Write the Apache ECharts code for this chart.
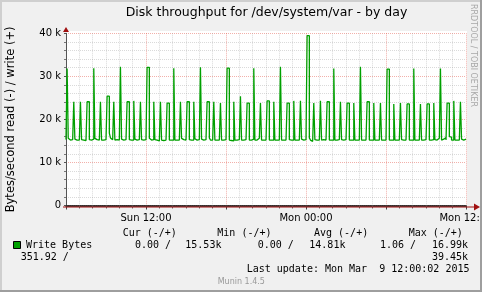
<!DOCTYPE html>
<html><head><meta charset="utf-8">
<script src="https://cdn.jsdelivr.net/npm/echarts@6/dist/echarts.min.js"></script>
<style>html,body{margin:0;padding:0;background:#f0f0f0}#c{width:482px;height:292px}</style>
</head><body><div id="c"></div>
<script>
// ---- data (values in k bytes/second), 5-minute samples starting Sun 06:00 ----
const title = 'Disk throughput for /dev/system/var - by day';
const yAxisName = 'Bytes/second read (-) / write (+)';
const startHour = 6;          // Sun 06:00
const stepMinutes = 5;
const xTickLabels = {12: 'Sun 12:00', 24: 'Mon 00:00', 36: 'Mon 12:00'};
const yTicks = [0, 10, 20, 30, 40];
const writeK = [
 15.3,31.8,15.6,15.2,15.2,15.3,15.2,24.1,15.4,15.2,15.3,15.2,
 15.2,24.1,15.3,15.2,15.3,15.1,15.2,24.1,24.1,15.3,15.2,15.2,
 15.4,31.9,15.6,15.3,15.2,15.2,15.3,24.1,15.2,15.2,15.2,15.3,
 15.2,25.4,25.4,16.8,15.7,15.3,15.2,24.1,15.2,15.3,15.2,15.2,
 15.3,32.2,15.4,15.2,15.2,15.3,15.2,24.1,24.1,15.3,15.2,15.1,
 15.2,24.3,15.4,15.2,15.2,15.3,15.2,24.1,15.3,15.2,15.2,15.3,
 15.4,32.1,32.1,15.6,15.2,15.2,15.3,24.1,15.3,15.2,15.2,15.0,
 15.2,24.1,15.2,15.1,15.2,15.2,15.2,23.8,23.8,15.2,15.2,15.1,
 15.2,31.9,15.2,15.2,15.2,15.2,15.2,24.1,15.6,15.3,15.2,15.2,
 15.2,24.1,24.1,15.3,15.2,15.2,15.2,24.1,15.5,15.2,15.2,15.3,
 15.2,32.1,15.4,15.2,15.2,15.3,15.2,24.1,24.1,15.7,15.2,15.2,
 15.2,24.1,15.2,15.2,15.3,15.2,15.2,23.8,15.2,15.2,15.2,15.3,
 15.2,31.9,31.9,15.2,15.1,15.1,15.0,24.1,15.2,15.2,15.1,15.3,
 15.2,25.4,15.2,15.2,15.2,15.3,15.2,23.8,23.8,15.2,15.2,15.2,
 15.4,31.9,15.2,15.2,15.3,15.6,15.2,23.8,15.2,15.2,15.2,15.2,
 15.2,24.3,24.3,15.2,15.2,15.3,15.2,24.1,15.2,15.2,15.2,15.2,
 15.4,32.2,15.2,15.2,15.2,15.2,15.2,23.8,23.8,15.3,15.2,15.2,
 15.2,24.3,15.2,15.2,15.3,15.2,15.2,24.3,15.4,15.2,15.2,15.3,
 15.2,39.45,39.45,15.7,15.2,14.9,15.2,23.8,15.3,15.2,15.2,15.2,
 15.6,24.3,15.2,15.3,15.2,15.2,15.2,24.1,24.1,15.2,15.2,15.2,
 15.2,31.8,15.2,15.2,15.2,15.3,15.2,24.1,15.3,15.2,15.2,15.3,
 15.2,23.8,23.8,15.2,15.2,15.6,15.2,23.8,15.2,15.2,15.2,15.2,
 15.2,32.2,15.2,15.2,15.3,15.2,15.2,24.1,24.1,15.2,15.2,15.3,
 15.2,23.8,15.2,15.2,15.2,15.2,15.2,23.8,15.2,15.2,15.2,15.2,
 15.3,31.7,31.7,15.2,15.2,15.2,15.2,23.6,15.2,15.2,15.2,15.2,
 15.2,23.8,15.3,15.2,15.2,15.2,15.2,23.6,23.6,15.2,15.2,15.2,
 15.2,31.8,15.2,15.2,15.2,15.2,15.2,23.6,15.2,15.2,15.2,15.3,
 15.2,23.6,23.6,15.2,15.2,15.2,15.3,23.8,15.3,15.2,15.2,15.6,
 15.2,31.8,15.2,15.4,15.6,15.8,15.2,23.8,23.8,16.0,15.9,15.2,
 15.2,24.3,15.2,15.2,15.2,15.2,15.2,24.1,15.4,15.2,15.5,15.4
];
const legendHeader = ['Cur (-/+)', 'Min (-/+)', 'Avg (-/+)', 'Max (-/+)'];
const legendName = 'Write Bytes';
const legendValues = ['0.00 /', '15.53k', '0.00 /', '14.81k', '1.06 /', '16.99k', '351.92 /', '39.45k'];
const lastUpdate = 'Last update: Mon Mar  9 12:00:02 2015';
const version = 'Munin 1.4.5';
const watermark = 'RRDTOOL / TOBI OETIKER';

// ---- chart ----
const seriesData = writeK.map((v, i) => [startHour + (i + 1) * stepMinutes / 60, v]);
seriesData.unshift([startHour, writeK[0]]);

const GREEN = '#00a000';
const MONO = '"DejaVu Sans Mono", monospace';
const SANS = '"DejaVu Sans", sans-serif';
const gridL = 66, gridT = 33.3, gridW = 400, gridH = 172.2;
const minorGrid = {color: 'rgba(140,140,140,0.32)', width: 1, type: [1, 1]};
const majorGrid = {color: 'rgba(222,48,32,0.38)', width: 1, type: [1, 1]};

function txt(x, y, s, opts) {
  return Object.assign({type: 'text', x: x, y: y, z: 50,
    style: Object.assign({text: s, fill: '#000', font: '10px ' + MONO, textVerticalAlign: 'middle'}, opts || {})});
}

const chart = echarts.init(document.getElementById('c'), null, {renderer: 'canvas'});
chart.setOption({
  animation: false,
  backgroundColor: '#f0f0f0',
  grid: {left: gridL, top: gridT, width: gridW, height: gridH, show: true, backgroundColor: '#fff', borderWidth: 0,
    containLabel: false, outerBoundsMode: 'none'},
  xAxis: {
    type: 'value', min: 6, max: 36, interval: 6,
    axisLine: {show: true, onZero: false, lineStyle: {color: '#000', width: 1.5}},
    axisTick: {show: true, length: 4, lineStyle: {color: '#444'}},
    minorTick: {show: true, splitNumber: 6, length: 3, lineStyle: {color: '#666'}},
    splitLine: {show: true, lineStyle: majorGrid},
    minorSplitLine: {show: true, lineStyle: minorGrid},
    axisLabel: {margin: 8, color: '#000', fontFamily: SANS, fontSize: 10, showMaxLabel: true, showMinLabel: true,
      alignMaxLabel: 'center', formatter: v => xTickLabels[v] || ''}
  },
  yAxis: {
    type: 'value', min: 0, max: 40, interval: 10,
    name: yAxisName, nameLocation: 'middle', nameGap: 49, nameRotate: 90,
    nameTextStyle: {color: '#000', fontFamily: SANS, fontSize: 11.5},
    axisLine: {show: true, lineStyle: {color: '#555', width: 1}},
    axisTick: {show: true, length: 2, lineStyle: {color: '#555'}},
    minorTick: {show: true, splitNumber: 5, length: 2, lineStyle: {color: '#777'}},
    splitLine: {show: true, lineStyle: majorGrid},
    minorSplitLine: {show: true, lineStyle: minorGrid},
    axisLabel: {margin: 5, color: '#000', fontFamily: SANS, fontSize: 10, showMaxLabel: true,
      formatter: v => (v === 0 ? '0' : v + ' k')}
  },
  series: [{
    type: 'line', name: legendName, step: 'start', showSymbol: false, symbol: 'none',
    data: seriesData, lineStyle: {color: GREEN, width: 1.3}, itemStyle: {color: GREEN}, z: 5, silent: true
  }],
  graphic: [
    // canvas margin
    {type: 'rect', shape: {x: 66, y: 31, width: 401, height: 176}, style: {fill: '#fff'}, z: -100, silent: true},
    // red x axis with arrow
    {type: 'line', shape: {x1: 63, y1: 207, x2: 474, y2: 207}, style: {stroke: '#a01010', lineWidth: 1.2}, z: 40},
    {type: 'polygon', shape: {points: [[474, 203.5], [480, 207], [474, 210.5]]}, style: {fill: '#a01010'}, z: 40},
    {type: 'polygon', shape: {points: [[63, 32], [66, 27], [69, 32]]}, style: {fill: '#a01010'}, z: 40},
    // title
    txt(266.5, 13, title, {font: '12.5px ' + SANS, textAlign: 'center'}),
    // watermark
    {type: 'text', x: 473, y: 4, rotation: -Math.PI / 2, z: 50,
     style: {text: watermark, fill: '#a8a8a8', font: '8px ' + SANS, textVerticalAlign: 'middle'}},
    // legend
    txt(122.7, 233, legendHeader[0]), txt(217.3, 233, legendHeader[1]),
    txt(314, 233, legendHeader[2]), txt(408.7, 233, legendHeader[3]),
    {type: 'rect', shape: {x: 13.5, y: 241.5, width: 7, height: 7}, style: {fill: GREEN, stroke: '#000', lineWidth: 1}, z: 50},
    txt(26, 245, legendName),
    txt(135, 245, legendValues[0]), txt(185.3, 245, legendValues[1]),
    txt(257.7, 245, legendValues[2]), txt(309.3, 245, legendValues[3]),
    txt(380, 245, legendValues[4]), txt(432, 245, legendValues[5]),
    txt(20.7, 257, legendValues[6]), txt(432, 257, legendValues[7]),
    txt(246.7, 269, lastUpdate),
    txt(217.7, 281.5, version, {font: '8px ' + SANS, fill: '#999'}),
    // frame
    {type: 'rect', shape: {x: 0, y: 0, width: 482, height: 2}, style: {fill: '#cfcfcf'}, z: 90},
    {type: 'rect', shape: {x: 0, y: 0, width: 2, height: 292}, style: {fill: '#cfcfcf'}, z: 90},
    {type: 'rect', shape: {x: 480, y: 0, width: 2, height: 292}, style: {fill: '#9e9e9e'}, z: 90},
    {type: 'rect', shape: {x: 0, y: 290, width: 482, height: 2}, style: {fill: '#9e9e9e'}, z: 90}
  ]
});
</script></body></html>
